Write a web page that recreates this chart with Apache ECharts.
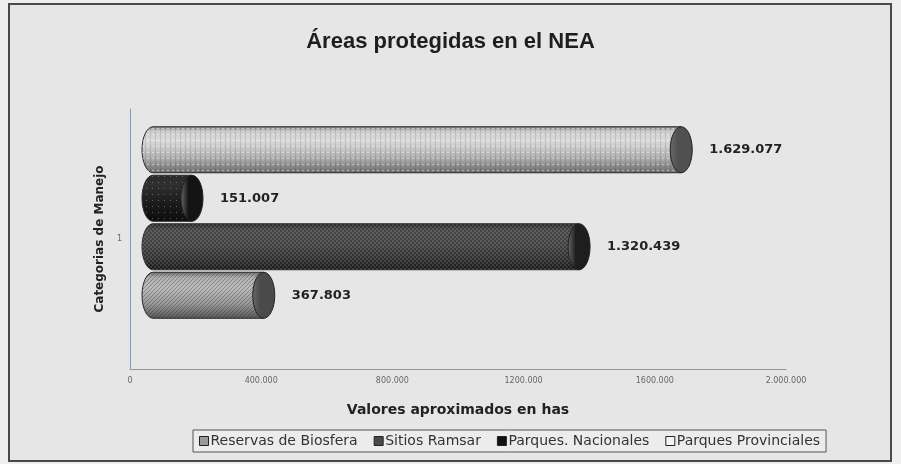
<!DOCTYPE html>
<html>
<head>
<meta charset="utf-8">
<script src="https://cdn.jsdelivr.net/npm/echarts@6/dist/echarts.min.js"></script>
<style>
html,body{margin:0;padding:0;background:#efefef;}
#c{width:901px;height:464px;}
</style>
</head>
<body>
<div id="c"></div>
<script>
// ---- data ----
const categories = ['1'];
const seriesNames = ['Reservas de Biosfera', 'Sitios Ramsar', 'Parques. Nacionales', 'Parques Provinciales'];
const reservasValues = [367803];
const ramsarValues = [1320439];
const nacionalesValues = [151007];
const provincialesValues = [1629077];
const xTickLabels = ['0', '400.000', '800.000', '1200.000', '1600.000', '2.000.000'];
const titleText = 'Áreas protegidas en el NEA';
const xAxisName = 'Valores aproximados en has';
const yAxisName = 'Categorias de Manejo';

// ---- styling helpers ----
function makePattern(w, h, draw) {
  const c = document.createElement('canvas');
  c.width = w; c.height = h;
  const ctx = c.getContext('2d');
  draw(ctx);
  return { image: c, repeat: 'repeat' };
}
const patterns = [
  makePattern(4, 4, ctx => { ctx.fillStyle = 'rgba(40,40,40,0.35)'; ctx.fillRect(0,3,1,1); ctx.fillRect(1,2,1,1); ctx.fillRect(2,1,1,1); ctx.fillRect(3,0,1,1); }),
  makePattern(4, 4, ctx => { ctx.fillStyle = 'rgba(255,255,255,0.13)'; ctx.fillRect(0,0,2,2); ctx.fillRect(2,2,2,2); }),
  makePattern(6, 6, ctx => { ctx.fillStyle = 'rgba(170,170,170,0.5)'; ctx.fillRect(2,2,1,1); }),
  makePattern(5, 6, ctx => { ctx.fillStyle = 'rgba(0,0,0,0.10)'; ctx.fillRect(0,0,1,6); ctx.fillStyle = 'rgba(255,255,255,0.45)'; ctx.fillRect(2,2,2,1); })
];
const bodyStops = [
  [[0,'#6a6a6a'],[0.12,'#b0b0b0'],[0.35,'#bcbcbc'],[0.7,'#969696'],[1,'#555555']],
  [[0,'#262626'],[0.15,'#464646'],[0.45,'#424242'],[0.8,'#2c2c2c'],[1,'#161616']],
  [[0,'#2a2a2a'],[0.2,'#303030'],[0.6,'#1c1c1c'],[1,'#0c0c0c']],
  [[0,'#767676'],[0.1,'#cdcdcd'],[0.3,'#dcdcdc'],[0.65,'#b4b4b4'],[1,'#6c6c6c']]
];
const capColors = ['#4a4a4a', '#1e1e1e', '#141414', '#505050'];
const legendColors = ['#9a9a9a', '#4a4a4a', '#111111', '#f4f4f4'];

function fmt(v) {
  return String(v).replace(/\B(?=(\d{3})+(?!\d))/g, '.');
}

const BAR_H = 46, STEP = 48.5, RX = 11;

function renderCyl(params, api) {
  const i = params.seriesIndex;
  const val = api.value(0);
  const pEnd = api.coord([val, api.value(1)]);
  const p0 = api.coord([0, api.value(1)]);
  const cy = pEnd[1] + (1.5 - i) * STEP;
  const x0 = p0[0], x1 = pEnd[0];
  const ry = BAR_H / 2;
  const top = cy - ry, bot = cy + ry;
  const xl = x0 + RX;
  const path = 'M' + xl + ' ' + top + ' L' + x1 + ' ' + top + ' L' + x1 + ' ' + bot +
    ' L' + xl + ' ' + bot + ' A' + RX + ' ' + ry + ' 0 0 1 ' + xl + ' ' + top + ' Z';
  return {
    type: 'group',
    children: [
      { type: 'path', shape: { pathData: path },
        style: { fill: new echarts.graphic.LinearGradient(0, 0, 0, 1, bodyStops[i].map(s => ({ offset: s[0], color: s[1] }))), stroke: '#2a2a2a', lineWidth: 1 } },
      { type: 'path', shape: { pathData: path }, silent: true,
        style: { fill: patterns[i], stroke: null } },
      { type: 'ellipse', shape: { cx: x1, cy: cy, rx: RX, ry: ry },
        style: { fill: new echarts.graphic.LinearGradient(0, 0, 1, 0, [{ offset: 0, color: '#6a6a6a' }, { offset: 0.35, color: capColors[i] }, { offset: 1, color: capColors[i] }]), stroke: '#222', lineWidth: 1 } },
      { type: 'text', x: x1 + RX + 17, y: cy,
        style: { text: fmt(val), font: 'bold 13px "DejaVu Sans"', fill: '#222', verticalAlign: 'middle', align: 'left' } }
    ]
  };
}

const valueSets = [reservasValues, ramsarValues, nacionalesValues, provincialesValues];
const series = seriesNames.map((name, i) => ({
  name: name,
  type: 'custom',
  coordinateSystem: 'cartesian2d',
  xAxisIndex: 1,
  yAxisIndex: 1,
  itemStyle: { color: legendColors[i] },
  renderItem: renderCyl,
  encode: { x: 0, y: 1 },
  data: valueSets[i].map((v, k) => [v, k])
}));

const chart = echarts.init(document.getElementById('c'), null, { renderer: 'canvas' });
chart.setOption({
  animation: false,
  backgroundColor: '#efefef',
  graphic: [
    { type: 'rect', z: -10, shape: { x: 9, y: 4, width: 882, height: 457 },
      style: { fill: '#e6e6e6', stroke: '#4a4a4a', lineWidth: 2 } }
  ],
  title: {
    text: titleText, left: 'center', top: 26,
    textStyle: { fontFamily: 'Liberation Sans', fontWeight: 'bold', fontSize: 22, color: '#1e1e1e' }
  },
  legend: {
    data: seriesNames,
    left: 193, top: 430,
    width: 640,
    icon: 'rect',
    itemWidth: 9, itemHeight: 9, itemGap: 16,
    padding: [4, 6, 4, 6],
    borderColor: '#555', borderWidth: 1, backgroundColor: '#ececec',
    itemStyle: { borderColor: '#222', borderWidth: 1 },
    textStyle: { fontFamily: 'DejaVu Sans', fontSize: 14, color: '#333', padding: [0, 0, 0, -3] }
  },
  grid: [
    { left: 130, right: 115, top: 109, bottom: 95, containLabel: false },
    { left: 142, right: 97, top: 100, bottom: 119, containLabel: false }
  ],
  xAxis: [
    { type: 'value', gridIndex: 0, min: 0, max: 2000000, interval: 400000,
      name: xAxisName, nameLocation: 'middle', nameGap: 34,
      nameTextStyle: { fontFamily: 'DejaVu Sans', fontWeight: 'bold', fontSize: 14, color: '#222' },
      axisLine: { show: true, lineStyle: { color: '#8d96b4', width: 1 } },
      axisTick: { show: false }, splitLine: { show: false },
      axisLabel: { fontFamily: 'DejaVu Sans', fontSize: 8, color: '#666', margin: 8,
        formatter: v => xTickLabels[Math.round(v / 400000)] } },
    { type: 'value', gridIndex: 1, min: 0, max: 2000000, show: false }
  ],
  yAxis: [
    { type: 'category', gridIndex: 0, data: categories,
      name: yAxisName, nameLocation: 'middle', nameGap: 19, nameRotate: 90,
      nameTextStyle: { fontFamily: 'DejaVu Sans', fontWeight: 'bold', fontSize: 12, color: '#222' },
      axisLine: { show: true, lineStyle: { color: '#8d96b4', width: 1 } },
      axisTick: { show: false },
      axisLabel: { fontFamily: 'DejaVu Sans', fontSize: 8, color: '#666', margin: 8 } },
    { type: 'category', gridIndex: 1, data: categories, show: false }
  ],
  series: series
});
</script>
</body>
</html>
